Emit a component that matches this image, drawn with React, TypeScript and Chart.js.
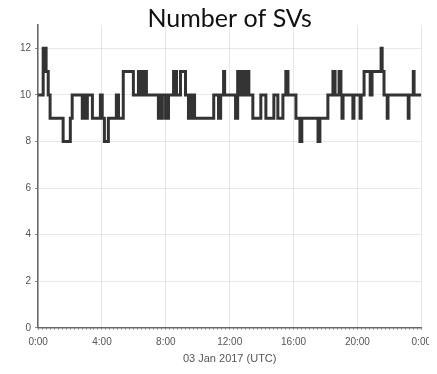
import React, { useEffect, useRef } from "react";
import { Chart, registerables } from "chart.js";

Chart.register(...registerables);

// Change points: minutes since 00:00 UTC and number of SVs held from that minute on
const changeMinutes = [
  0, 19, 30, 38, 45, 94, 121, 128, 166, 170, 173, 177, 181, 185, 204, 234, 241, 249, 264, 294,
  302, 320, 358, 377, 388, 396, 407, 452, 456, 460, 467, 479, 490, 509, 520, 535, 554, 565, 569,
  577, 580, 588, 660, 678, 686, 697, 701, 742, 750, 758, 762, 769, 773, 780, 784, 792, 807, 837,
  856, 886, 901, 920, 931, 939, 969, 984, 991, 1052, 1059, 1089, 1108, 1116, 1131, 1138, 1142,
  1146, 1183, 1187, 1210, 1214, 1225, 1248, 1255, 1289, 1293, 1300, 1312, 1315, 1391, 1394, 1410,
  1413, 1440,
];
const svCounts = [
  10, 12, 11, 10, 9, 8, 9, 10, 9, 10, 9, 10, 9, 10, 9, 10, 9, 8, 9, 10,
  9, 11, 10, 11, 10, 11, 10, 9, 10, 9, 10, 9, 10, 11, 10, 11, 10, 9, 10,
  9, 10, 9, 10, 9, 10, 11, 10, 9, 11, 10, 11, 10, 11, 10, 11, 10, 9, 10,
  9, 10, 9, 10, 11, 10, 9, 8, 9, 8, 9, 10, 11, 10, 11, 10, 9,
  10, 9, 10, 9, 10, 11, 10, 11, 12, 11, 10, 9, 10, 9, 10, 11,
  10, 10,
];
const titleText = "Number of SVs";
const xAxisTitle = "03 Jan 2017 (UTC)";
const yTickValues = [0, 2, 4, 6, 8, 10, 12];

function fmt(min: number) {
  const h = Math.round(min / 60) % 24;
  return `${h}:00`;
}

export default function App() {
  const ref = useRef<HTMLCanvasElement | null>(null);
  useEffect(() => {
    if (!ref.current) return;
    const data = changeMinutes.map((m, i) => ({ x: m, y: svCounts[i] }));
    const chart = new Chart(ref.current, {
      type: "line",
      data: {
        datasets: [
          {
            data,
            stepped: true,
            borderColor: "#333333",
            borderWidth: 3,
            pointRadius: 0,
            fill: false,
          },
        ],
      },
      options: {
        animation: false,
        responsive: true,
        maintainAspectRatio: false,
        layout: { padding: { left: 8, right: 0, top: 0, bottom: 0 } },
        plugins: {
          legend: { display: false },
          tooltip: { enabled: false },
          title: {
            display: true,
            text: titleText,
            fullSize: false,
            color: "#111",
            font: { family: "Lato", size: 25, weight: "normal" },
            padding: { top: -4, bottom: -9 },
          },
        },
        scales: {
          x: {
            type: "linear",
            min: 0,
            max: 1440,
            afterBuildTicks: (scale: any) => {
              const t = [];
              for (let m = 0; m <= 1440; m += 15) t.push({ value: m });
              scale.ticks = t;
            },
            ticks: {
              autoSkip: false,
              maxRotation: 0,
              minRotation: 0,
              color: "#555",
              font: { family: "Liberation Sans", size: 10 },
              padding: 6,
              callback: (v: any) => (Number(v) % 240 === 0 ? fmt(Number(v)) : ""),
            },
            grid: {
              color: (c: any) =>
                c.tick && c.tick.value % 240 === 0 ? "rgba(0,0,0,0.09)" : "rgba(0,0,0,0)",
              tickColor: "#888",
              tickLength: 2,
              lineWidth: 1,
            },
            border: { color: "#666", width: 1.5 },
            title: {
              display: true,
              text: xAxisTitle,
              color: "#555",
              font: { family: "Liberation Sans", size: 11 },
              padding: { top: -1, bottom: 0 },
            },
          },
          y: {
            min: 0,
            max: 13,
            afterBuildTicks: (scale: any) => {
              scale.ticks = yTickValues.map((v) => ({ value: v }));
            },
            ticks: {
              color: "#555",
              font: { family: "Liberation Sans", size: 10 },
              padding: 4,
            },
            grid: {
              color: "rgba(0,0,0,0.09)",
              tickColor: "#888",
              tickLength: 3,
            },
            border: { color: "#666", width: 1.5 },
          },
        },
      },
    });
    return () => chart.destroy();
  }, []);
  return (
    <div style={{ width: 429, height: 358 }}>
      <canvas ref={ref} />
    </div>
  );
}
